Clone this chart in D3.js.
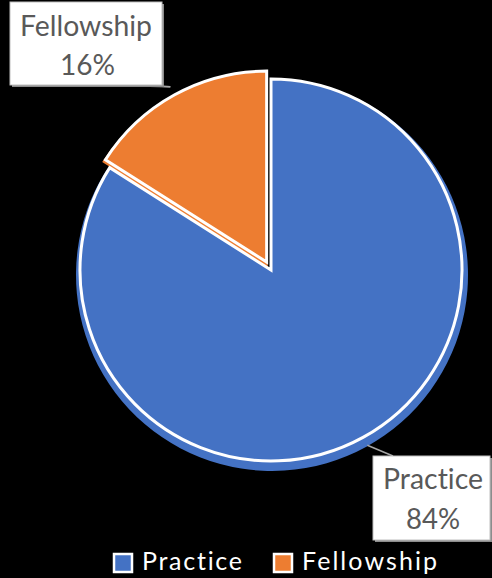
<!DOCTYPE html>
<html>
<head>
<meta charset="utf-8">
<script src="https://cdn.jsdelivr.net/npm/d3@7"></script>
<style>
  html, body { margin: 0; padding: 0; background: #000; }
  svg { display: block; }
  text { font-family: Lato, "Liberation Sans", sans-serif; font-variant-ligatures: none; font-feature-settings: "liga" 0, "dlig" 0; }
</style>
</head>
<body>
<svg id="chart" width="492" height="578"></svg>
<script>
// Share of respondents by path
const categories = ["Practice", "Fellowship"];
const values = [84, 16];
const colors = ["#4472C4", "#ED7D31"];

const W = 492, H = 578;
const cx = 271, cy = 270, R = 191;
const explode = { Fellowship: 9 };

const svg = d3.select("#chart");
svg.append("rect").attr("width", W).attr("height", H).attr("fill", "#000");

const color = d3.scaleOrdinal().domain(categories).range(colors);
const data = categories.map((c, i) => ({ category: c, value: values[i] }));
const pie = d3.pie().sort(null).value(d => d.value);
const arcs = pie(data);
const total = d3.sum(values);

const arcMain = d3.arc().innerRadius(0).outerRadius(R);
const arcDepth = d3.arc().innerRadius(0).outerRadius(R + 5);

function offset(d) {
  const e = explode[d.data.category] || 0;
  const mid = (d.startAngle + d.endAngle) / 2;
  return [cx + e * Math.sin(mid), cy - e * Math.cos(mid)];
}

const g = svg.append("g");

// Extruded edge under each slice
g.selectAll("path.depth").data(arcs).join("path")
  .attr("class", "depth")
  .attr("d", arcDepth)
  .attr("fill", d => color(d.data.category))
  .attr("transform", d => { const [x, y] = offset(d); return `translate(${x + 1},${y + 5})`; });

// Slices
g.selectAll("path.slice").data(arcs).join("path")
  .attr("class", "slice")
  .attr("d", arcMain)
  .attr("fill", d => color(d.data.category))
  .attr("stroke", "#fff")
  .attr("stroke-width", 3)
  .attr("stroke-linejoin", "miter")
  .attr("transform", d => { const [x, y] = offset(d); return `translate(${x},${y})`; });

// Data labels with callouts
const labelBoxes = {
  Practice:   { x: 373, y: 456, w: 117, h: 84, cx: 433, b1: 489, b2: 529, tl: 100, pl: 54,
                callout: [[393, 456]] },
  Fellowship: { x: 10,  y: 2,   w: 152, h: 83, cx: 86,  b1: 36,  b2: 75,  tl: 132, pl: 55,
                callout: [[140, 85], [97, 85]] }
};

arcs.forEach(d => {
  const box = labelBoxes[d.data.category];
  const [ox, oy] = offset(d);
  const mid = (d.startAngle + d.endAngle) / 2;
  const rr = R + 9;
  const px = ox + rr * Math.sin(mid), py = oy - rr * Math.cos(mid);

  const lg = svg.append("g");
  box.callout.forEach(([tx, ty]) => {
    lg.append("line")
      .attr("x1", px).attr("y1", py).attr("x2", tx).attr("y2", ty)
      .attr("stroke", "#a6a6a6").attr("stroke-width", 1.5);
  });
  // box shadow
  lg.append("rect")
    .attr("x", box.x + 2).attr("y", box.y + 2).attr("width", box.w).attr("height", box.h)
    .attr("fill", "#8c8c8c");
  lg.append("rect")
    .attr("x", box.x).attr("y", box.y).attr("width", box.w).attr("height", box.h)
    .attr("fill", "#fff").attr("stroke", "#bfbfbf").attr("stroke-width", 1);

  const pct = Math.round(d.data.value / total * 100) + "%";
  lg.append("text")
    .attr("x", box.cx).attr("y", box.b1)
    .attr("text-anchor", "middle")
    .attr("font-size", 29).attr("fill", "#595959")
    .attr("textLength", box.tl).attr("lengthAdjust", "spacingAndGlyphs")
    .text(d.data.category);
  lg.append("text")
    .attr("x", box.cx + (d.data.category === "Fellowship" ? 1.5 : 0)).attr("y", box.b2)
    .attr("text-anchor", "middle")
    .attr("font-size", 29).attr("fill", "#595959")
    .attr("textLength", box.pl).attr("lengthAdjust", "spacingAndGlyphs")
    .text(pct);
});

// Legend
const legendX = { Practice: 113, Fellowship: 273 };
const legendW = { Practice: 100, Fellowship: 135 };
const legend = svg.append("g");
categories.forEach(c => {
  const x = legendX[c];
  legend.append("rect")
    .attr("x", x + 1).attr("y", 554).attr("width", 18).attr("height", 18)
    .attr("fill", color(c)).attr("stroke", "#fff").attr("stroke-width", 2.5);
  legend.append("text")
    .attr("x", x + 29).attr("y", 570)
    .attr("font-size", 25).attr("fill", "#fff")
    .attr("textLength", legendW[c]).attr("lengthAdjust", "spacing")
    .text(c);
});
</script>
</body>
</html>
